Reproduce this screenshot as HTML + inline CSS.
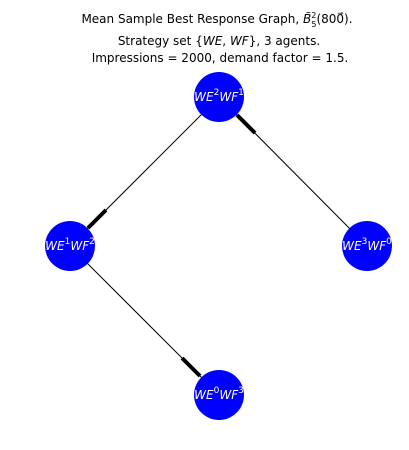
<html><body style="margin:0;background:#fff">
<svg width="409" height="450" xmlns="http://www.w3.org/2000/svg" font-family="DejaVu Sans, sans-serif">
<rect width="409" height="450" fill="#fff"/>
<g font-size="12" text-anchor="middle" fill="#000">
<text x="217" y="23">Mean Sample Best Response Graph, <tspan font-style="italic">B̃</tspan><tspan font-size="8" dy="-5">2</tspan><tspan font-size="8" dx="-5" dy="9">5</tspan><tspan dy="-4">(80</tspan><tspan>0⃗</tspan>).</text>
<text x="219" y="45">Strategy set {<tspan font-style="italic">WE</tspan>, <tspan font-style="italic">WF</tspan>}, 3 agents.</text>
<text x="220" y="62">Impressions = 2000, demand factor = 1.5.</text>
</g>
<g stroke="#000" stroke-width="1">
<line x1="70" y1="246" x2="219" y2="97"/>
<line x1="367" y1="246" x2="219" y2="97"/>
<line x1="70" y1="246" x2="219" y2="395"/>
</g>
<g stroke="#000" stroke-width="4">
<line x1="88" y1="228" x2="106" y2="210"/>
<line x1="237" y1="115" x2="255" y2="133"/>
<line x1="182" y1="358" x2="200" y2="376"/>
</g>
<g fill="#0000ff">
<circle cx="219" cy="97" r="25"/>
<circle cx="70" cy="246" r="25"/>
<circle cx="367" cy="246" r="25"/>
<circle cx="219" cy="395" r="25"/>
</g>
<g fill="#fff" font-size="12" text-anchor="middle" font-style="italic">
<text x="219" y="101">WE<tspan font-size="9" dy="-6" font-style="normal">2</tspan><tspan dy="6">WF</tspan><tspan font-size="9" dy="-6" font-style="normal">1</tspan></text>
<text x="70" y="250">WE<tspan font-size="9" dy="-6" font-style="normal">1</tspan><tspan dy="6">WF</tspan><tspan font-size="9" dy="-6" font-style="normal">2</tspan></text>
<text x="367" y="250">WE<tspan font-size="9" dy="-6" font-style="normal">3</tspan><tspan dy="6">WF</tspan><tspan font-size="9" dy="-6" font-style="normal">0</tspan></text>
<text x="219" y="399">WE<tspan font-size="9" dy="-6" font-style="normal">0</tspan><tspan dy="6">WF</tspan><tspan font-size="9" dy="-6" font-style="normal">3</tspan></text>
</g>
</svg>
</body></html>
